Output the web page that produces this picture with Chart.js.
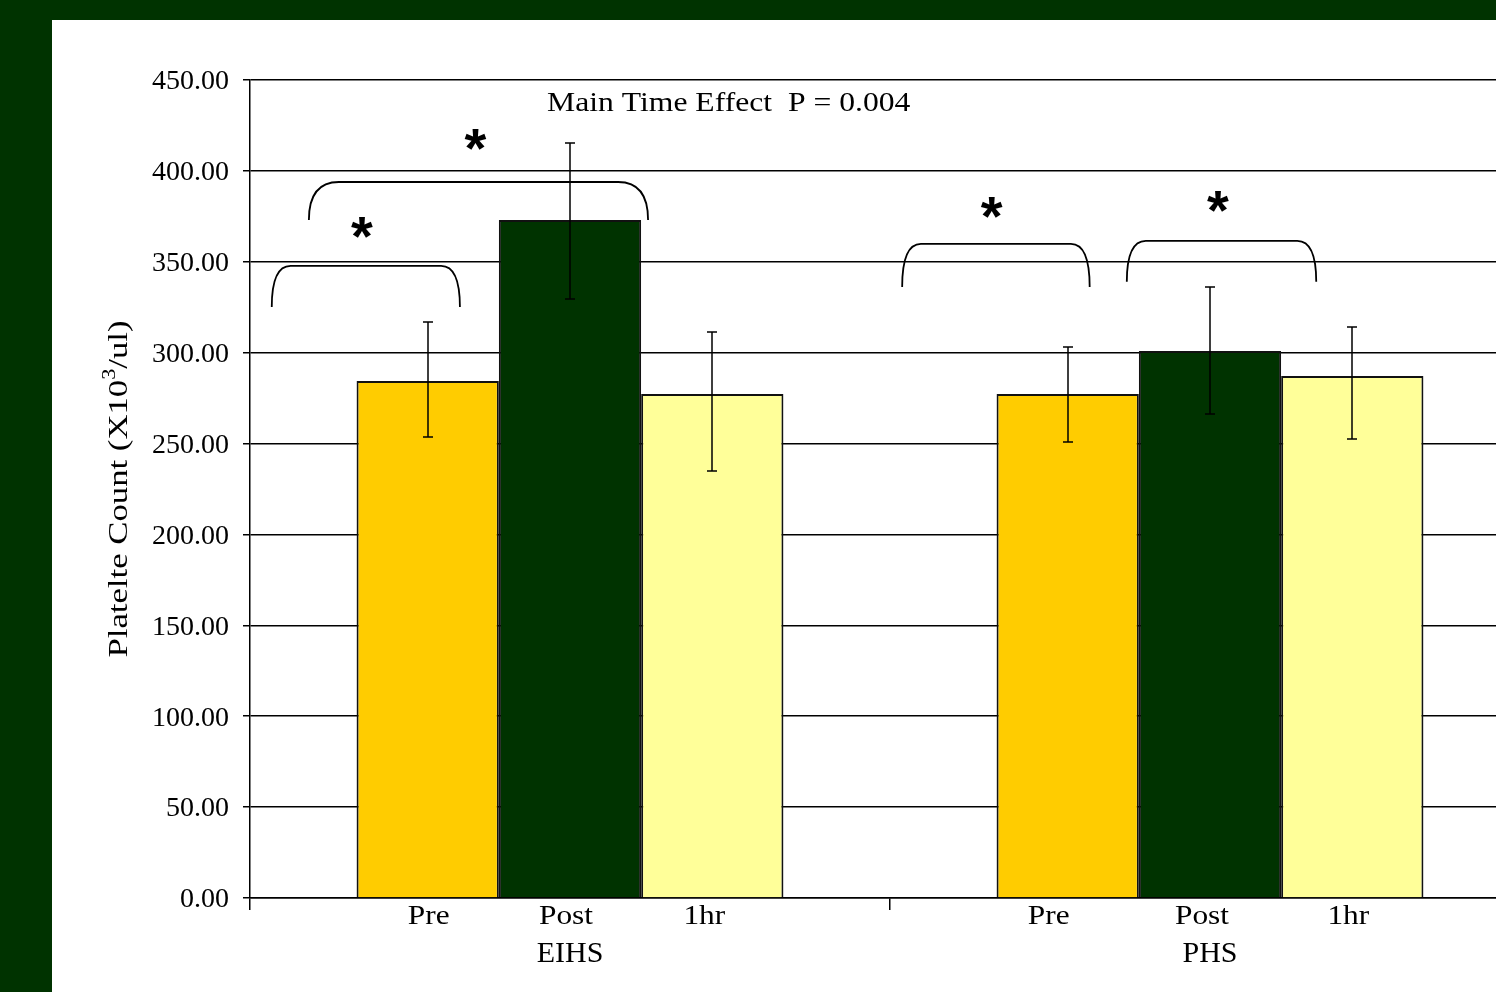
<!DOCTYPE html>
<html>
<head>
<meta charset="utf-8">
<script src="https://cdn.jsdelivr.net/npm/chart.js@4/dist/chart.umd.min.js"></script>
<style>
  html, body { margin: 0; padding: 0; background: #003300; overflow: hidden; width: 1496px; height: 992px; }
  #wrap { position: absolute; left: 52px; top: 20px; width: 1500px; height: 972px; background: #ffffff; }
  canvas { display: block; }
</style>
</head>
<body>
<div id="wrap"><canvas id="c" width="1500" height="972"></canvas></div>
<script>
// Groups and time points
const groups = ['EIHS', 'PHS'];
const timepoints = ['Pre', 'Post', '1hr'];

// Mean platelet counts (x10^3/ul) for each time point, per group
const preMeans  = [284.4, 277.3];
const postMeans = [373.0, 300.9];
const hrMeans   = [277.3, 287.2];

// Error bar ends (upper / lower values)
const preHigh  = [316.9, 303.1];
const preLow   = [253.6, 250.9];
const postHigh = [415.3, 336.1];
const postLow  = [329.5, 266.3];
const hrHigh   = [311.4, 314.1];
const hrLow    = [234.9, 252.5];

// Y axis tick values
const yTicks = [0, 50, 100, 150, 200, 250, 300, 350, 400, 450];

// Significance brackets: group index, left/right offset (fraction of category width), top and foot values
const bracketGroup = [0, 0, 1, 1];
const bracketFrom  = [-0.466, -0.408, -0.481, -0.130];
const bracketTo    = [-0.172,  0.122, -0.188,  0.166];
const bracketTop   = [347.7, 393.9, 359.8, 361.5];
const bracketFoot  = [325.1, 373.0, 336.1, 339.0];

// Asterisk markers: group index, offset, value
const starGroup  = [0, 0, 1, 1];
const starOffset = [-0.325, -0.148, -0.341, 0.0125];
const starValue  = [368.6, 417.0, 379.6, 382.9];

const titleText = 'Main Time Effect  P = 0.004';
const serif = '"Liberation Serif", "Times New Roman", serif';

// draws text with a horizontal stretch along its own baseline
function wideText(ctx, text, x, y, stretch) {
  ctx.save();
  ctx.translate(x, y);
  ctx.scale(stretch, 1);
  ctx.fillText(text, 0, 0);
  ctx.restore();
}

// small horizontal nudges of the time point labels (per dataset, per group)
const labelNudge = [[1, -19], [-4, -8], [-8, -4]];

const overlay = {
  id: 'overlay',
  afterDatasetsDraw(chart) {
    const ctx = chart.ctx;
    const xs = chart.scales.x, ys = chart.scales.y;
    const catW = xs.getPixelForValue(1) - xs.getPixelForValue(0);
    const px = (g, off) => xs.getPixelForValue(g) + off * catW;

    ctx.save();
    // error bars
    ctx.strokeStyle = '#000';
    ctx.lineWidth = 1.5;
    chart.data.datasets.forEach((ds, di) => {
      const meta = chart.getDatasetMeta(di);
      meta.data.forEach((bar, i) => {
        const x = Math.round(bar.x);
        const yTop = ys.getPixelForValue(ds.high[i]);
        const yBot = ys.getPixelForValue(ds.low[i]);
        ctx.beginPath();
        ctx.moveTo(x, yTop); ctx.lineTo(x, yBot);
        ctx.moveTo(x - 5, yTop); ctx.lineTo(x + 5, yTop);
        ctx.moveTo(x - 5, yBot); ctx.lineTo(x + 5, yBot);
        ctx.stroke();
      });
    });

    // brackets
    ctx.lineWidth = 1.8;
    for (let i = 0; i < bracketGroup.length; i++) {
      const x0 = px(bracketGroup[i], bracketFrom[i]);
      const x1 = px(bracketGroup[i], bracketTo[i]);
      const yt = ys.getPixelForValue(bracketTop[i]);
      const yb = ys.getPixelForValue(bracketFoot[i]);
      const r = Math.min(30, (x1 - x0) * 0.1);
      ctx.beginPath();
      ctx.moveTo(x0, yb);
      ctx.quadraticCurveTo(x0, yt, x0 + r, yt);
      ctx.lineTo(x1 - r, yt);
      ctx.quadraticCurveTo(x1, yt, x1, yb);
      ctx.stroke();
    }

    // asterisks
    ctx.fillStyle = '#000';
    ctx.font = 'bold 56px "Liberation Sans", Arial, sans-serif';
    ctx.textAlign = 'center';
    ctx.textBaseline = 'alphabetic';
    for (let i = 0; i < starGroup.length; i++) {
      const cx = px(starGroup[i], starOffset[i]);
      const cy = ys.getPixelForValue(starValue[i]);
      const m = ctx.measureText('*');
      const mid = (m.actualBoundingBoxAscent - m.actualBoundingBoxDescent) / 2;
      ctx.fillText('*', cx, cy + mid);
    }

    // title text inside plot
    ctx.font = '28px ' + serif;
    ctx.textBaseline = 'middle';
    wideText(ctx, titleText, px(0, 0.248), ys.getPixelForValue(437.2), 1.13);

    // time point labels beneath each bar
    chart.data.datasets.forEach((ds, di) => {
      const meta = chart.getDatasetMeta(di);
      meta.data.forEach((bar, i) => {
        wideText(ctx, timepoints[di], bar.x + labelNudge[di][i], ys.bottom + 19, 1.12);
      });
    });

    // y axis title with a raised exponent
    const base = 'Platelte Count (X10', sup = '3', tail = '/ul)';
    ctx.font = '28px ' + serif;
    const wBase = ctx.measureText(base).width, wTail = ctx.measureText(tail).width;
    ctx.font = '18px ' + serif;
    const wSup = ctx.measureText(sup).width;
    const total = wBase + wSup + wTail;
    ctx.translate(68, (ys.top + ys.bottom) / 2);
    ctx.rotate(-Math.PI / 2);
    ctx.scale(1.24, 1);
    ctx.textAlign = 'left';
    ctx.textBaseline = 'middle';
    let tx = -total / 2;
    ctx.font = '28px ' + serif;
    ctx.fillText(base, tx, 0); tx += wBase;
    ctx.font = '18px ' + serif;
    ctx.fillText(sup, tx, -10); tx += wSup;
    ctx.font = '28px ' + serif;
    ctx.fillText(tail, tx, 0);
    ctx.restore();
  }
};

new Chart(document.getElementById('c'), {
  type: 'bar',
  data: {
    labels: groups,
    datasets: [
      { label: timepoints[0], data: preMeans,  high: preHigh,  low: preLow,  backgroundColor: '#FFCC00' },
      { label: timepoints[1], data: postMeans, high: postHigh, low: postLow, backgroundColor: '#003300' },
      { label: timepoints[2], data: hrMeans,   high: hrHigh,   low: hrLow,   backgroundColor: '#FFFF99' }
    ]
  },
  options: {
    responsive: false,
    animation: false,
    devicePixelRatio: 1,
    layout: { padding: { left: 0, right: 22, top: 60, bottom: 0 } },
    datasets: {
      bar: { categoryPercentage: 0.667, barPercentage: 1.0, borderColor: '#111', borderWidth: 2 }
    },
    plugins: { legend: { display: false }, tooltip: { enabled: false } },
    scales: {
      x: {
        grid: { display: true, drawOnChartArea: false, drawTicks: true, tickLength: 12, color: '#000', lineWidth: 1.5, offset: true },
        border: { display: true, color: '#000', width: 1.5 },
        ticks: { color: '#000', font: { family: serif, size: 30 }, padding: 26, maxRotation: 0 },
        afterFit(scale) { scale.height = 94; }
      },
      y: {
        min: 0, max: 450,
        afterBuildTicks(scale) { scale.ticks = yTicks.map(v => ({ value: v })); },
        grid: { color: '#000', lineWidth: 1.5, tickLength: 7, drawTicks: true },
        border: { display: true, color: '#000', width: 1.5 },
        ticks: { color: '#000', font: { family: serif, size: 28 }, padding: 14, labelOffset: 2, callback: v => Number(v).toFixed(2) },
        title: { display: false },
        afterFit(scale) { scale.width = 198; }
      }
    }
  },
  plugins: [overlay]
});
</script>
</body>
</html>
